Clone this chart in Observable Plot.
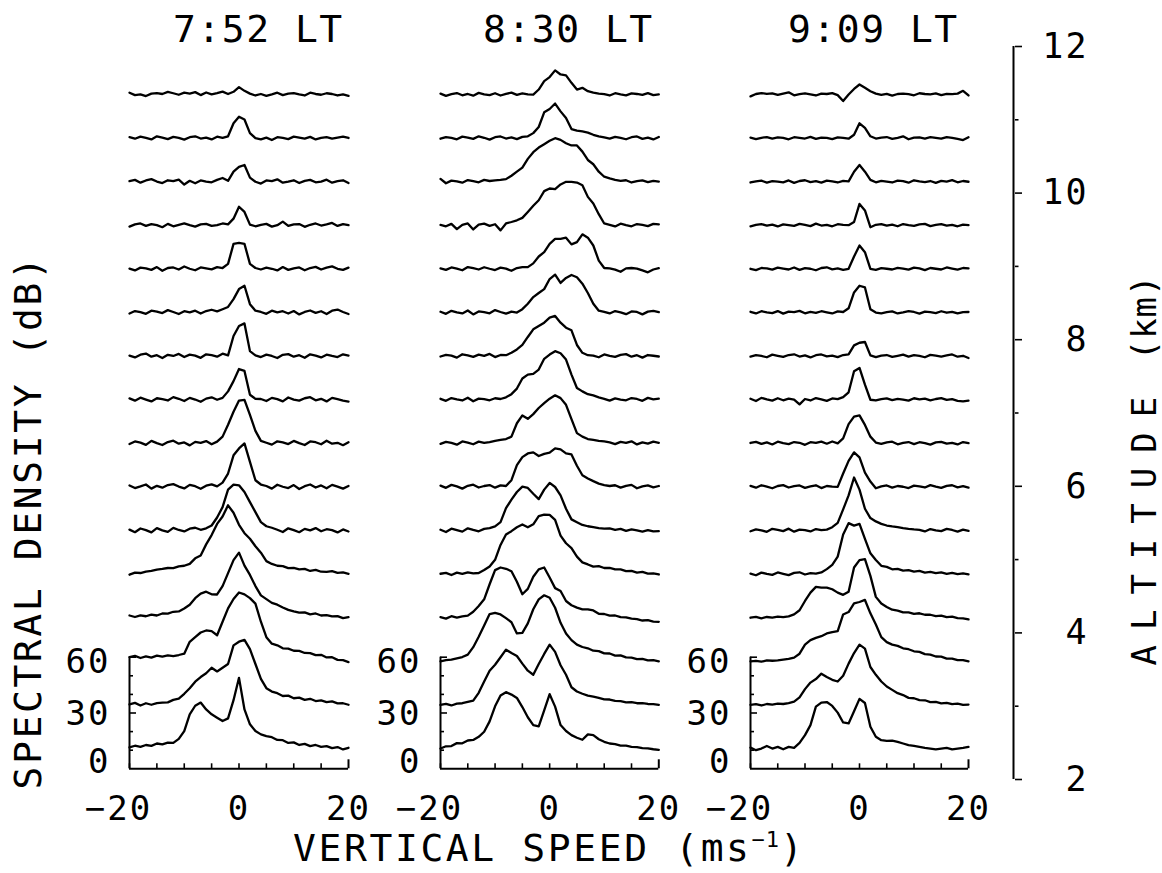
<!DOCTYPE html>
<html>
<head>
<meta charset="utf-8">
<script src="https://cdn.jsdelivr.net/npm/d3@7"></script>
<script src="https://cdn.jsdelivr.net/npm/@observablehq/plot@0.6"></script>
<style>
  html, body { margin: 0; padding: 0; background: #fff; }
  #chart { position: relative; width: 1162px; height: 873px; overflow: hidden; background: #fff; }
  #chart svg { position: absolute; top: 0; }
  .lbl { position: absolute; font-family: 'DejaVu Sans Mono', monospace; font-size: 38px; line-height: 38px; letter-spacing: 1.5px; white-space: nowrap; color: #000; }
  .lbl sup { font-size: 22px; line-height: 0; vertical-align: 14px; letter-spacing: 1px; }
</style>
</head>
<body>
<div id="chart"></div>
<script>
// Doppler velocity grid (m/s)
const velocity = [-20,-19,-18,-17,-16,-15,-14,-13,-12,-11,-10,-9,-8,-7,-6,-5,-4,-3,-2,-1,0,1,2,3,4,5,6,7,8,9,10,11,12,13,14,15,16,17,18,19,20];

// Panel titles
const panelTimes = ["7:52 LT", "8:30 LT", "9:09 LT"];

// Spectral density (dB above the noise floor), lowest range gate first
const spectra752 = [
 [0.6,1.5,0.9,1.9,1.4,2.7,2.2,3.2,3.0,5.2,9.4,18.4,23,24.7,21,18.4,16.6,14.8,16.2,26,38,21,13,9.4,7.6,6.7,6.1,4.6,4.5,3.0,3.3,1.9,2.5,1.3,1.9,0.9,1.3,0.2,0.8,-0.5,0.4],
 [0.3,1.1,-0.3,0.9,0.1,1.0,1.2,1.4,2.7,3.4,6,9,12.5,15,17,20,18,20,22,32,34,35,30,22,14,9,7.2,6.3,4.8,5.0,3.6,3.9,2.7,3.3,2.1,2.4,1.5,1.9,0.8,0.9,0.1],
 [2.3,2.9,1.8,2.7,2.0,3.1,2.5,3.2,2.8,3.4,4.1,10.5,13,15.5,16.6,16.2,14,21.3,28.5,33.5,37,36,34,31,21.3,13,9.5,8.6,7.0,6.8,5.7,5.6,4.5,4.4,3.3,3.5,2.1,2.2,0.8,0.6,-0.4],
 [1.2,0.4,1.3,0.8,1.7,1.2,2.3,2.2,3.2,3.4,5,7,10.5,13,14,12.6,12.5,17,24,31,35,28,23,17,12,10,8,7,5.5,4.2,3.4,2.7,2.9,1.8,2.3,1.2,1.4,0.7,0.9,-0.2,0.3],
 [-0.3,0.8,0.6,1.4,1.7,2.4,2.8,3.3,3.2,4.2,4.5,5.5,8.5,10,16,21,27,31,37,33,26.5,22,19,15,11.5,7,5.5,4.5,4.3,3.2,3.4,2.6,2.8,1.7,2.3,1.3,1.2,1.6,0.7,0.9,0.2],
 [0.5,-0.9,1.1,0.2,-1.0,1.3,0.1,-0.7,1.4,0.3,-0.5,1.0,1.5,0.4,1.2,2.7,7,12.6,22,24.7,24.3,20.7,15.3,9.9,4.5,2.3,1.5,0.4,-0.8,1.2,0.2,-0.9,0.9,0.1,1.3,-0.4,0.7,0.2,-1.0,0.6,-0.5],
 [0.8,-0.6,0.3,1.3,-0.9,0.6,-0.4,1.0,1.5,0.2,-0.8,1.1,0.4,-1.0,0.7,1.4,0.3,2.3,7.2,17,20.7,23.4,13.5,3.6,1.3,0.5,-0.9,1.2,0.1,-0.6,1.0,-1.1,0.4,1.3,-0.3,0.8,-0.7,1.1,0.2,-0.9,0.5],
 [-0.4,1.0,0.4,-0.8,1.3,0.1,-0.9,0.7,1.4,-0.2,0.5,-1.1,0.8,0.3,1.2,-0.5,0.9,3.6,10,17,23,23.4,15.3,6.7,1.3,0.3,-0.7,1.1,0.5,-0.4,1.3,0.1,-0.9,1.0,0.6,-0.5,1.4,-0.2,0.3,-1.0,0.6],
 [0.7,-0.5,1.1,0.1,-0.9,0.8,0.3,-0.4,1.4,0.5,-0.7,1.0,0.1,-1.1,0.6,1.3,0.0,1,4.5,10,16.5,15.5,2.7,0.5,0.4,-0.7,1.0,0.3,-0.9,1.2,0.1,-0.5,0.8,1.4,-0.3,0.5,-0.9,1.0,0.3,-0.5,-1.0],
 [0.3,-0.7,0.8,1.4,-0.3,0.5,-1.0,0.7,0.1,1.2,-0.5,0.8,0.3,-0.9,1.0,0.5,-0.3,1.3,0.4,10.8,16.2,17.6,2.7,0.4,-0.5,0.8,0.1,-1.0,0.7,1.1,-0.3,0.5,-0.9,1.0,0.3,-0.7,0.8,0.1,-0.5,1.0,0.3],
 [-0.5,0.8,0.2,-0.7,1.0,0.5,-0.3,1.3,0.3,-0.8,0.7,0.1,1.0,-0.5,0.8,1.5,0.6,1.8,3,7.2,12.6,14.4,4.5,1,0.3,-0.7,1.0,0.1,0.7,-0.5,0.8,-1.0,0.3,1.1,-0.2,0.7,-0.8,1.0,1.6,0.3,-0.8],
 [0.2,-0.8,0.7,0.3,-0.5,1.0,-1.0,0.5,0.8,-0.3,1.3,0.1,-0.7,0.8,0.3,-0.2,1.0,0.5,2.7,13.5,14,13.5,2.7,0.5,-0.3,0.7,0.1,-0.8,1.0,-0.5,0.3,0.8,-0.7,0.5,1.1,-0.3,0.7,1.4,0.1,-0.5,0.7],
 [-0.7,0.5,1.0,-0.3,0.7,0.1,-1.0,0.8,-0.5,0.3,1.1,0.1,-0.7,0.5,0.8,-0.3,0.1,1.0,0.5,3.6,10,7.2,0.4,-0.5,0.3,0.8,-0.7,0.1,2.0,-0.3,0.5,0.7,-0.8,0.3,1.0,-0.1,0.5,1.3,-0.3,0.7,0.1],
 [0.3,1.0,-0.5,0.7,1.4,0.1,-0.7,0.8,0.3,1.1,-1.5,0.5,-0.8,0.7,0.1,-0.3,1.0,2,0.5,5.4,8,9,2.2,0,-1.0,0.7,0.3,1.3,-0.5,0.1,0.8,-0.7,0.5,1.0,-0.3,0.1,1.1,-0.5,0.3,0.8,-0.7],
 [0.5,-0.3,0.8,0.1,-0.7,1.0,0.3,-0.5,0.7,0.1,-0.8,0.5,1.0,-0.2,0.3,-0.7,0.8,0.1,1,8,11.5,10,2.7,0,-0.7,0.3,-1.0,0.5,0.1,-0.5,0.8,0.3,-0.3,0.7,-0.7,0.1,0.5,-0.3,0.3,0.8,0.1],
 [1.0,-0.3,0.1,-0.8,0.5,0.8,0.3,1.4,0.7,-0.1,1.0,0.5,1.3,-0.3,1.1,0.1,0.8,1.6,0.3,1.5,4,2,0.5,-0.5,0.3,-0.7,0.1,1.0,-0.3,0.5,0.8,0.1,-0.5,1.0,0.3,-0.1,0.7,0.3,-0.5,0.1,-0.7]
];

const spectra830 = [
 [0,1.2,1.3,2.9,2.8,4.3,4.6,6.3,9,14.6,22.7,28.5,30.3,29,27.2,22.3,16.8,12.6,11.9,20.5,29.2,22.5,12.6,9.4,7.2,5.8,4.7,7.6,7.2,5,3.6,2.7,2.4,1.6,1.5,0.9,0.8,0.2,0.1,-0.4,-0.7],
 [0,0.6,-0.3,0.7,0.9,1.6,2.3,6.5,12.6,18.4,21.6,25.6,29.7,27.9,26.3,22.2,18.4,16.2,22,27.4,32.4,28.5,21.3,16.2,9.5,7.2,6,5,4.5,3.8,3,2.9,2.2,2.0,1.4,1.5,0.9,1.0,0.5,0.4,0],
 [0,0.6,0.9,1.6,2.3,3.6,7.6,13.2,19.3,25.4,26,25.2,23.2,21,15,15.3,20.4,28,33.3,35.5,34.2,28.8,20.7,15,11.4,9,7.7,7.0,5.7,5.5,4.3,4.2,3.1,3.2,2.1,2.0,1.2,1.3,0.5,0.6,0],
 [0.3,-0.5,0.8,0.1,0.7,1.1,3.2,6.3,9.9,18,25.6,27,26.3,25,19.3,12.6,15.5,22,26,27,21.6,15.9,14.4,9,6.7,5.4,4.5,4.5,3.9,2.1,2.0,1.1,1.2,0.3,0.2,-0.5,-0.8,-1.5,-1.3,-2.1,-2.2],
 [0.2,0.7,-0.5,0.8,0.1,0.9,0.4,0.6,2.2,4.1,7.7,15.7,21.3,23.1,25.2,26.7,25.2,26.8,31.2,32,31.9,29.2,20.7,16.6,14,9.4,6.3,5.2,4.0,4.3,3.3,3.4,2.6,2.5,1.6,1.7,0.8,1.2,0.3,0.4,-0.2],
 [0.4,-0.8,1.0,0.2,-0.6,1.2,0.3,-0.4,0.9,1.3,2.2,4.5,12,16.6,20.7,23.6,22.9,19.8,16.9,22,25.6,23.4,18.9,11.7,6,4.5,3,2.3,1.8,1.3,1,1.2,0.4,0.9,-0.2,0.6,0.1,-0.6,0.2,-0.5,-0.3],
 [0.7,-0.5,1.1,0.3,-0.9,0.6,1.2,-0.3,0.5,1.0,-0.4,0.8,0.5,3.6,11.7,16,18,18.6,16.6,17.8,18.4,20.7,20.2,18,17.5,11.4,6.3,4.5,3.1,1.8,1,0.5,0.9,-0.4,0.6,1.1,-0.7,0.3,0.8,-0.2,0.5],
 [-0.3,0.8,0.2,-0.7,1.0,0.4,-0.5,0.9,0.3,0.7,1.3,1.8,2.3,3.6,10.8,15,13.2,15.7,19,21.6,24,25.8,24.3,20.7,13,5.5,3.6,2.3,1.8,1.3,1,0.5,-0.4,0.8,0.2,1.1,-0.6,0.5,-0.2,0.9,0.3],
 [0.5,-0.6,0.9,0.2,-0.4,1.1,-0.8,0.6,0.3,-0.3,0.8,0.4,1.3,3,6,11.4,13.5,13.9,16.2,22,24.3,26.1,25,21.6,13.5,6.3,4.5,3,2.3,1.3,0.5,-0.5,0.7,0.1,-0.3,0.9,0.4,-0.6,1.0,0.2,0.6],
 [-0.2,0.7,0.3,-0.8,1.0,0.4,-0.4,0.8,0.1,1.2,-0.5,0.6,0.5,1.8,3.6,6,10.3,14.4,16.2,18,20.7,21.6,18,15.3,13.9,6,1.8,0.5,0.3,-0.6,0.9,0.2,-0.4,0.7,1.1,-0.3,0.5,-0.8,0.6,0.2,-0.2],
 [0.4,-0.7,0.9,0.1,-0.5,1.1,-1.0,0.6,0.2,-0.4,1.3,0.3,-0.6,0.5,0,1.8,4.7,8.3,10.5,12.6,18,20.4,15.9,18.6,20.2,19,15.5,10.5,4.7,1,0.4,-0.5,0.8,0.1,-0.9,0.6,0.3,-1.0,0.5,0.9,0.2],
 [0.3,-0.5,0.8,0.2,-0.7,1.0,0.4,-0.3,0.9,0.1,-0.6,0.7,0.2,-1,0.5,1,1,3,6.7,9,13.5,16.2,16.2,16.8,13.2,14.4,18.6,16.8,12.6,4.5,0.5,0.3,-0.4,-1.5,0.3,0.5,0.2,-0.8,-1.8,-0.3,0.4],
 [0.2,-0.5,0.8,-2.0,0.3,1.0,-2.2,0.4,0.9,-0.3,0.6,-2.7,1,1.8,2.7,4,7.2,10.5,13.5,18.4,19.8,19.5,22,23.4,23.4,23,21.6,15.3,11.7,6,1,0.3,-0.6,0.9,0.1,-0.5,0.7,0.2,-0.4,0.8,0.5],
 [1.5,-0.8,0.6,0.2,-0.5,0.9,0.3,-0.3,1.0,0.4,0.7,1,1.4,3.2,5.4,7.6,12.3,15.9,18.4,20.2,22,23.4,22.5,20.7,19.5,19.5,16.2,11.7,9.4,5.4,2.7,1.8,1,0.5,0.8,-0.4,0.3,0.7,-0.2,0.5,0.1],
 [-0.3,0.6,0.1,-0.6,0.8,0.3,-0.4,1.0,0.2,-0.8,0.5,0.9,-0.2,0.4,-0.5,0.7,1,2.7,6,13.9,15.7,18.6,14.4,10.8,4.9,4.1,3.6,3,1.8,1,0.4,-0.3,0.7,0.2,-0.6,0.5,0.9,-0.4,0.3,-0.7,0.6],
 [0.5,-0.7,0.2,0.8,-0.4,0.3,-0.6,0.9,0.1,-0.3,0.7,-0.5,0.4,1.0,-0.2,0.6,0.1,0,2.7,7.2,9.4,13,10.8,10.3,6.3,2.7,3.6,1.8,1,0.5,0.2,-0.5,0.7,0.1,-0.4,0.6,0.3,-0.2,0.8,-0.3,0.1]
];

const spectra909 = [
 [0.5,-0.9,0,1.4,0,0.9,-0.4,0.9,0.4,3,7.2,12.6,22.5,24.7,25,22.9,19.3,14,13.5,20,26.7,24.5,11.7,6.3,4.5,4.1,4.3,3.6,2.7,1.8,1.4,0.9,0.4,0,-0.4,0,0.4,-0.4,0,0.4,0.9],
 [0,0.4,-0.3,0.5,0.2,0.7,0.5,1,1.8,4.1,8.5,12,13.9,16.8,15,13.5,12.6,15.7,22.2,27.9,32.4,30.3,20.4,16.2,12.6,9.9,8.1,6.3,5.3,3.8,3.6,2.6,2.5,1.5,1.6,0.8,1.1,0.4,0.7,0,0.2],
 [0,0.3,-0.2,0.5,0.3,0.5,0.9,1.3,2,4.1,9,11.4,12.6,13.5,15,15.7,16.2,25.2,26.5,31.2,31.9,33,25.8,19.8,13,10.3,9,8.3,7.0,6.5,5.4,5.1,3.9,3.6,2.6,2.5,1.5,1.5,0.6,0.7,0],
 [0,0.5,-0.3,0.4,0.1,0.6,0.3,0.7,1.8,4,9,13.5,16.6,16.2,16.2,15.3,13.5,12.3,14,27,31,31.5,22.5,11.2,7.6,5.8,4.3,3.8,2.9,2.9,2.1,2.4,1.6,1.6,0.9,1.1,0.3,0.6,-0.2,-0.3,-0.9],
 [0.3,-0.6,0.8,0.1,-0.4,0.9,0.2,-0.5,0.7,1.0,-0.2,0.5,0.3,0.9,2.7,5,9.4,21.3,27.4,26.1,27,18.9,11.2,7.6,4.5,3.9,2.6,2.8,1.9,2.1,1.3,1.7,0.8,1.2,0.5,0.9,0.2,0.7,0,0.4,-0.1],
 [-0.4,0.6,0.1,-0.7,0.9,0.3,-0.3,1.0,-0.6,0.5,0.2,-0.5,0.8,0.2,0.5,1.8,4.1,11.4,18.9,28.5,22,11.7,6.7,4.9,3.6,2.7,2.2,1.8,1.3,0.9,0.6,0.4,-0.5,0.8,0.1,-0.3,0.9,0.3,-0.6,0.5,-0.2],
 [0.6,-0.4,0.9,0.2,-0.7,0.5,1.0,-0.3,0.4,0.8,-0.5,0.3,0.9,-0.6,0.5,0.2,0,7.2,14,18.6,15.9,7.7,2.9,-0.7,0.3,0.8,-0.4,0.5,0.1,-0.6,0.7,0.3,-0.3,1.0,0.2,-0.5,0.6,0.9,-0.2,0.4,-0.4],
 [0.2,0.8,-0.3,0.5,-0.6,0.9,0.1,-0.4,0.7,0.3,-0.8,0.6,0.2,0.9,-0.2,1.0,0,2.7,10.3,14.4,15,9.9,3.6,0.4,-0.3,0.5,0.9,-0.5,0.2,0.7,-0.4,0.6,0.1,-0.7,0.5,0.8,-0.2,0.3,-0.6,0.7,0.1],
 [0.5,-0.7,1.0,0.2,-0.5,0.8,-0.3,0.6,0.1,-2.5,0.4,-0.4,0.9,0.2,-0.6,0.7,0.3,1.4,4,15.3,17.1,8.1,0,-0.4,0.3,0.7,-0.2,0.5,0.1,-0.5,0.8,0.2,0.6,-0.3,0.4,0.9,-0.1,0.3,-0.6,-0.9,-0.5],
 [-0.3,0.5,0.1,-0.6,0.8,0.2,-0.4,0.6,1.0,-0.2,0.4,-0.7,0.5,0.9,-0.1,0.3,-0.5,0.6,1,5.8,7.2,7.6,0.4,-0.5,0.3,0.6,-0.4,0.2,0.8,-0.3,0.5,0.1,-0.6,0.7,0.3,-0.2,0.4,0.9,-0.3,0.2,-1.0],
 [0.4,-0.5,0.7,0.1,-0.3,0.8,-0.6,0.5,0.2,0.9,-0.4,0.3,-0.2,0.7,0.1,-0.5,0.6,0.3,2.3,10.8,14.4,13.5,1.8,0,-0.4,0.2,0.6,-0.5,0.1,0.8,0.3,-0.6,0.5,0.2,-0.3,0.7,-0.1,0.4,-0.5,0.2,0.3],
 [0.1,-0.6,0.5,0.3,-0.4,0.7,0.2,-0.3,0.8,-0.5,0.4,0.1,-0.7,0.5,0.9,-0.2,0.3,-0.5,0.1,6.7,12.6,9,0,-0.5,0.4,0.1,-0.3,0.6,0.2,-0.4,0.7,0.3,-0.6,0.5,0.1,-0.3,0.8,0.2,-0.4,0.5,0.3],
 [-0.5,0.3,0.7,-0.2,0.4,-0.6,0.5,0.1,-0.3,0.8,0.2,-0.4,0.9,-0.1,0.3,-0.5,0.6,0.2,0.1,1.8,11.5,8,-1,0.3,0.6,-0.2,0.4,-0.5,0.7,0.1,-0.3,0.5,0.8,-0.4,0.2,0.6,-0.1,0.3,-0.5,0.4,0.1],
 [-0.4,0.2,0.6,-0.5,0.3,0.1,-0.3,0.7,-0.6,0.4,0.8,-0.2,0.3,-0.5,0.6,0.2,-0.4,0.5,0.2,5.4,9,5.4,1,-0.3,0.5,0.1,-0.4,0.6,0.3,-0.5,0.8,0.2,-0.2,0.4,-0.6,0.5,0.1,0.9,-0.3,0.4,0],
 [0.3,-0.5,0.2,0.6,-0.3,0.4,0.1,-0.6,0.5,0.2,-0.2,0.7,-0.4,0.3,0.1,-0.5,0.4,0.2,-0.3,1.8,8,5.5,1,-0.2,0.3,0.6,-0.4,0.2,1.0,-0.6,0.3,0.4,-0.2,0.5,0.1,-0.3,0.6,0.2,-0.4,-1.0,0.5],
 [-1.0,0.3,0.8,0.4,0.6,-0.2,0.5,1.2,-0.4,0.2,0.6,0.1,-0.5,0.5,0.3,0.8,-0.3,-3.5,0,3,5.4,3.6,1.8,0.5,-0.2,0.4,-0.6,0.3,0.5,0.2,-0.4,0.7,0.3,0.1,0.6,-0.3,0.4,0.2,0.5,2.0,-0.5]
];

// Tick values
const speedTicks = [-20,-15,-10,-5,0,5,10,15];
const speedEndTick = [20];
const speedLabels = [0, 20];
const speedNegLabels = [-20];
const dbMinorTicks = [10,20,40,50];
const dbMajorTicks = [30,60];
const dbLabelLow = [0], dbLabelMid = [30], dbLabelHigh = [60];
const altMajor = [2,4,6,8,10,12];
const altMinor = [3,5,7,9,11];

// Stacking of the range gates (dB): noise floor of the lowest gate and gate-to-gate offset
const floorDb = 10.9;
const gateOffsetDb = 23.44;

const chart = document.getElementById("chart");
const svgStyle = "background:transparent;overflow:visible;font-family:'DejaVu Sans Mono',monospace;letter-spacing:2px;color:#000;";

function rowsFor(spectra) {
  return spectra.flatMap((s, g) => s.map((d, j) => ({v: velocity[j], db: floorDb + g * gateOffsetDb + d, gate: g})));
}

function panel(spectra, frameLeft, frameWidth) {
  const mL = 70, mR = 30;
  const lab = {tickSize: 0, tickPadding: 19, fontSize: 34, label: null};
  const svg = Plot.plot({
    width: mL + frameWidth + mR,
    height: 873,
    marginLeft: mL, marginRight: mR, marginTop: 24.3, marginBottom: 104.7,
    style: svgStyle,
    x: {domain: [-20, 20]},
    y: {domain: [0, 400]},
    marks: [
      Plot.ruleY([0], {stroke: "black", strokeWidth: 2}),
      Plot.ruleX([-20], {y1: 0, y2: 60, stroke: "black", strokeWidth: 2}),
      Plot.axisX({ticks: speedTicks, tickSize: -5, tickFormat: () => "", label: null, strokeWidth: 1.6}),
      Plot.axisX({ticks: speedEndTick, tickSize: -9, tickFormat: () => "", label: null, strokeWidth: 2}),
      Plot.axisX({ticks: speedLabels, tickSize: 0, tickPadding: 27, fontSize: 34, label: null}),
      Plot.axisX({ticks: speedNegLabels, tickSize: 0, tickPadding: 27, fontSize: 34, dx: -11, label: null}),
      Plot.axisY({ticks: dbMinorTicks, tickSize: -4, tickFormat: () => "", label: null, strokeWidth: 1.6}),
      Plot.axisY({ticks: dbMajorTicks, tickSize: -7, tickFormat: () => "", label: null, strokeWidth: 1.6}),
      Plot.axisY({ticks: dbLabelLow, ...lab, dy: -7}),
      Plot.axisY({ticks: dbLabelMid, ...lab, dy: 1}),
      Plot.axisY({ticks: dbLabelHigh, ...lab, dy: 5}),
      Plot.line(rowsFor(spectra), {x: "v", y: "db", z: "gate", stroke: "black", strokeWidth: 2.3, strokeLinejoin: "round"})
    ]
  });
  svg.style.left = (frameLeft - mL) + "px";
  chart.appendChild(svg);
}

panel(spectra752, 129, 219);
panel(spectra830, 440, 218.3);
panel(spectra909, 750, 218);

// Altitude axis (km)
const alt = Plot.plot({
  width: 202, height: 873,
  marginLeft: 51, marginRight: 149, marginTop: 46, marginBottom: 94,
  style: svgStyle,
  y: {domain: [2, 12]},
  marks: [
    Plot.ruleX([0], {x: null, y1: 2, y2: 12, stroke: "black", strokeWidth: 2}),
    Plot.axisY({anchor: "right", ticks: altMajor, tickSize: 7, tickFormat: () => "", label: null, strokeWidth: 1.6}),
    Plot.axisY({anchor: "right", ticks: altMinor, tickSize: 3.5, tickFormat: () => "", label: null, strokeWidth: 1.6}),
    Plot.axisY({anchor: "right", ticks: altMajor, tickSize: 0, tickPadding: 74, textAnchor: "end", fontSize: 35, label: null})
  ]
});
alt.style.left = (1013 - 52) + "px";
chart.appendChild(alt);

// Text labels
function addLabel(html, css) {
  const d = document.createElement("div");
  d.className = "lbl";
  d.innerHTML = html;
  Object.assign(d.style, css);
  chart.appendChild(d);
  return d;
}
const titleLefts = [173, 483, 788];
panelTimes.forEach((t, k) => addLabel(t, {left: titleLefts[k] + "px", top: "10px"}));
addLabel("VERTICAL SPEED (ms<sup>−1</sup>)", {left: "293px", top: "829px", letterSpacing: "2.6px"});
addLabel("SPECTRAL DENSITY (dB)", {left: "28px", top: "522px", letterSpacing: "2.6px", transform: "translate(-50%,-50%) rotate(-90deg)"});
addLabel('<span style="letter-spacing:15px">ALTITUDE</span><span style="letter-spacing:1px"> (km)</span>',
  {left: "1144px", top: "470px", fontSize: "34px", lineHeight: "33px", transform: "translate(-50%,-50%) rotate(-90deg)"});
</script>
</body>
</html>
